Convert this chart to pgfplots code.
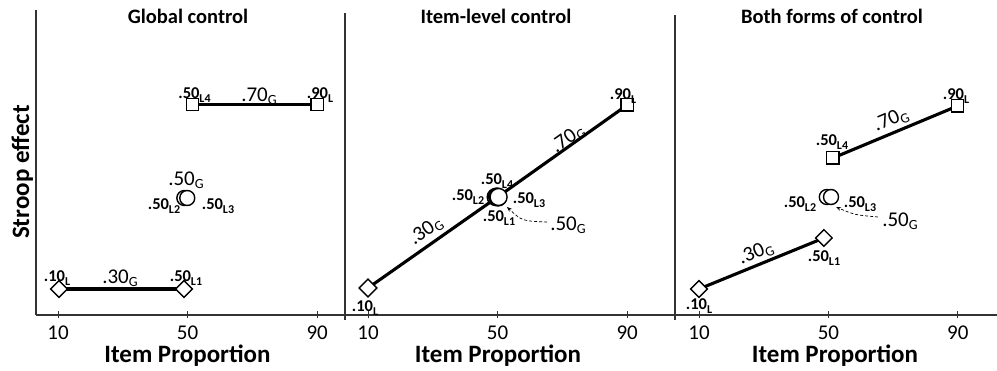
\documentclass[border=0pt]{standalone}
\usepackage{pgfplots}
\pgfplotsset{compat=1.18}
\usepackage{fontspec}
\setmainfont{Carlito}
\usetikzlibrary{arrows.meta}

\newcommand\bl[2]{{\bfseries\fontsize{16.5}{16.5}\selectfont #1\raisebox{-3.5pt}{\fontsize{12}{12}\selectfont #2}}}
\newcommand\gl[2]{{\fontsize{21}{21}\selectfont #1\raisebox{-3.5pt}{\fontsize{14}{14}\selectfont #2}}}

\pgfplotsset{
  panel/.style={
    scale only axis, anchor=south west, clip=false,
    axis x line*=bottom, axis y line*=left,
    axis line style={-, black!80, line width=1.1pt},
    ymin=0,
    xtick={10,50,90}, xticklabels={10,50,90}, ytick=\empty,
    tick align=center, major tick length=7pt,
    tick style={black!80, line width=1pt},
    xticklabel style={font=\fontsize{21}{21}\selectfont, anchor=base, inner sep=0pt, yshift=-21pt},
  },
  sq/.style={line width=3.1pt, black, mark=square*, mark size=6.2pt,
    mark options={solid, fill=white, draw=black, line width=1.4pt}},
  dm/.style={line width=3.1pt, black, mark=square*, mark size=5.9pt,
    mark options={solid, rotate=45, fill=white, draw=black, line width=1.4pt}},
  ci/.style={only marks, mark=*, mark size=#1,
    mark options={solid, fill=white, draw=black, line width=1.4pt}},
}

\begin{document}
\begin{tikzpicture}[x=1pt, y=1pt]
\path[use as bounding box] (0,0) rectangle (997,371);

% ---------- Panel 1: Global control ----------
\begin{axis}[panel, at={(36pt,56pt)}, width=309pt, height=305pt,
  xmin=3.2, xmax=98.6, ymax=305]
\addplot[sq] coordinates {(51.5,210.5) (90,210.5)};
\addplot[dm] coordinates {(10.3,26) (48.9,26)};
\addplot[ci=7.5pt] coordinates {(49.0,117) (49.9,117)};
\end{axis}

% ---------- Panel 2: Item-level control ----------
\begin{axis}[panel, at={(345pt,56pt)}, width=330pt, height=302pt,
  xmin=2.9, xmax=104.75, ymax=302,
  y axis line style={shorten <=-5pt}]
\addplot[line width=3.1pt, black, no marks] coordinates {(10,27) (50,118) (90,210)};
\addplot[dm, mark size=6.3pt, only marks] coordinates {(10,27)};
\addplot[sq, only marks] coordinates {(90,210)};
\addplot[ci=8.5pt] coordinates {(49.4,118) (49.8,118.5) (50.1,117.5) (50.3,118)};
\end{axis}

% ---------- Panel 3: Both forms of control ----------
\begin{axis}[panel, at={(675pt,56pt)}, width=322pt, height=300pt,
  xmin=2.58, xmax=102.1, ymax=300,
  y axis line style={shorten <=-5pt}]
\addplot[sq] coordinates {(51.4,157) (89.9,209)};
\addplot[dm] coordinates {(10,26) (48.6,77)};
\addplot[ci=7.5pt] coordinates {(49.5,118) (50.8,118)};
\end{axis}

% ---------- titles and axis labels ----------
\node[anchor=base] at (188,347) {\bfseries\fontsize{20.5}{20.5}\selectfont Global control};
\node[anchor=base] at (496,347) {\bfseries\fontsize{20.5}{20.5}\selectfont Item-level control};
\node[anchor=base] at (832,347) {\bfseries\fontsize{20.5}{20.5}\selectfont Both forms of control};
\node[anchor=base] at (187.5,8) {\bfseries\fontsize{25}{25}\selectfont Item Proportion};
\node[anchor=base] at (498,8) {\bfseries\fontsize{25}{25}\selectfont Item Proportion};
\node[anchor=base] at (835,8) {\bfseries\fontsize{25}{25}\selectfont Item Proportion};
\node[anchor=base, rotate=90] at (29,199) {\bfseries\fontsize{25}{25}\selectfont Stroop effect};

\begin{scope}[every node/.style={inner sep=0pt}]
% panel 1 labels
\node at (194.5,276) {\bl{.50}{L4}};
\node at (259,275) {\gl{.70}{G}};
\node at (320,276) {\bl{.90}{L}};
\node at (186,191) {\gl{.50}{G}};
\node at (164,165) {\bl{.50}{L2}};
\node at (218,165) {\bl{.50}{L3}};
\node at (57,93) {\bl{.10}{L}};
\node at (120,93) {\gl{.30}{G}};
\node at (186,93) {\bl{.50}{L1}};
% panel 2 labels
\node at (623,275) {\bl{.90}{L}};
\node[rotate=35] at (568,232) {\gl{.70}{G}};
\node[rotate=35] at (426,140) {\gl{.30}{G}};
\node at (497,190) {\bl{.50}{L4}};
\node at (468,174) {\bl{.50}{L2}};
\node at (529,171) {\bl{.50}{L3}};
\node at (499,153) {\bl{.50}{L1}};
\node at (568,146) {\gl{.50}{G}};
\node at (365,63) {\bl{.10}{L}};
% panel 3 labels
\node at (956,275) {\bl{.90}{L}};
\node[rotate=23] at (891,251) {\gl{.70}{G}};
\node at (832,229) {\bl{.50}{L4}};
\node at (800,167) {\bl{.50}{L2}};
\node at (860,167) {\bl{.50}{L3}};
\node at (900,150) {\gl{.50}{G}};
\node[rotate=22] at (756,118) {\gl{.30}{G}};
\node at (824,113) {\bl{.50}{L1}};
\node at (699,65) {\bl{.10}{L}};
\end{scope}

% dotted pointer arrows
\draw[densely dashed, line width=0.7pt, -{Stealth[length=5pt,width=4pt]}] (547,149) .. controls (522,150) .. (507,164);
\draw[densely dashed, line width=0.7pt, -{Stealth[length=5pt,width=4pt]}] (878,154) .. controls (855,156) .. (836,164);
\end{tikzpicture}
\end{document}
